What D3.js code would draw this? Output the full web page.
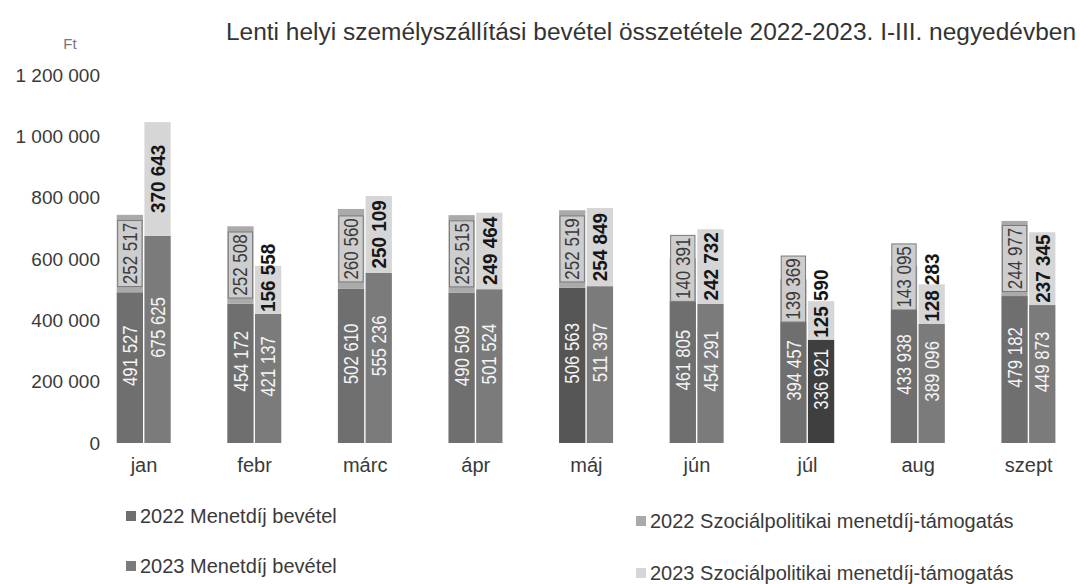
<!DOCTYPE html>
<html>
<head>
<meta charset="utf-8">
<script src="https://cdn.jsdelivr.net/npm/d3@7"></script>
<style>
  body { margin: 0; background: #fff; }
  svg { display: block; font-family: "Liberation Sans", Arial, sans-serif; }
</style>
</head>
<body>
<svg id="chart" width="1080" height="584"></svg>
<script>
const months = ['jan', 'febr', 'márc', 'ápr', 'máj', 'jún', 'júl', 'aug', 'szept'];
const fare2022 = [491527, 454172, 502610, 490509, 506563, 461805, 394457, 433938, 479182];
const fare2023 = [675625, 421137, 555236, 501524, 511397, 454291, 336921, 389096, 449873];
const support2022 = [252517, 252508, 260560, 252515, 252519, 140391, 139369, 143095, 244977];
const support2023 = [370643, 156558, 250109, 249464, 254849, 242732, 125590, 128283, 237345];
const yTicks = [0, 200000, 400000, 600000, 800000, 1000000, 1200000];
const legendNames = ['2022 Menetdíj bevétel', '2023 Menetdíj bevétel',
    '2022 Szociálpolitikai menetdíj-támogatás', '2023 Szociálpolitikai menetdíj-támogatás'];

const hu = d3.formatLocale({ decimal: ',', thousands: ' ', grouping: [3], currency: ['', ' Ft'] });
const fmt = hu.format(',d');

const svg = d3.select('#chart');

const x = d3.scaleBand().domain(months).range([88.7, 1084]);
const xSub = d3.scaleBand().domain(['2022', '2023']).range([28, 82]).paddingInner(0.05);
const y = d3.scaleLinear().domain([0, 1200000]).range([443, 75]);

// bar colours (scan is greyscale)
const fareColor = { '2022': '#6f6f6f', '2023': '#7b7b7b' };
const supColor = { '2022': '#aaaaaa', '2023': '#d6d6d6' };
const darker = { 'máj-2022': '#555555', 'júl-2023': '#3f3f3f' };

const rows = [];
months.forEach((m, i) => {
    rows.push({ m, yr: '2022', fare: fare2022[i], sup: support2022[i] });
    rows.push({ m, yr: '2023', fare: fare2023[i], sup: support2023[i] });
});

// title
svg.append('text')
    .attr('x', 226).attr('y', 40)
    .attr('font-size', 23)
    .attr('fill', '#333')
    .attr('textLength', 850).attr('lengthAdjust', 'spacingAndGlyphs')
    .text('Lenti helyi személyszállítási bevétel összetétele 2022-2023. I-III. negyedévben');

svg.append('text')
    .attr('x', 70).attr('y', 49)
    .attr('text-anchor', 'middle')
    .attr('font-size', 15)
    .attr('fill', '#777')
    .text('Ft');

// y axis (labels only)
const gy = svg.append('g')
    .attr('transform', 'translate(100,0)')
    .call(d3.axisLeft(y).tickValues(yTicks).tickSize(0).tickPadding(0).tickFormat(fmt));
gy.select('.domain').remove();
gy.selectAll('text')
    .attr('font-size', 19)
    .attr('fill', '#3a3a3a')
    .attr('font-family', '"Liberation Sans", Arial, sans-serif');

// x axis (labels only)
const gx = svg.append('g')
    .attr('transform', 'translate(0,458)')
    .call(d3.axisBottom(x).tickSize(0).tickPadding(0));
gx.select('.domain').remove();
gx.selectAll('text')
    .attr('font-size', 20)
    .attr('fill', '#3a3a3a')
    .attr('font-family', '"Liberation Sans", Arial, sans-serif');

const bars = svg.append('g');
const bx = d => x(d.m) + xSub(d.yr);
const bw = xSub.bandwidth();

bars.selectAll('rect.fare')
    .data(rows).enter().append('rect')
    .attr('class', 'fare')
    .attr('x', bx)
    .attr('width', bw)
    .attr('y', d => y(d.fare))
    .attr('height', d => y(0) - y(d.fare))
    .attr('fill', d => darker[d.m + '-' + d.yr] || fareColor[d.yr]);

bars.selectAll('rect.sup')
    .data(rows).enter().append('rect')
    .attr('class', 'sup')
    .attr('x', bx)
    .attr('width', bw)
    .attr('y', d => y(d.fare + d.sup))
    .attr('height', d => y(d.fare) - y(d.fare + d.sup))
    .attr('fill', d => supColor[d.yr]);

// labels in the fare segments
bars.selectAll('text.fare')
    .data(rows).enter().append('text')
    .attr('class', 'fare')
    .attr('text-anchor', 'middle')
    .attr('dominant-baseline', 'central')
    .attr('font-size', 21)
    .attr('fill', '#f4f4f4')
    .attr('transform', d => {
        const cy = (y(0) + y(d.fare)) / 2 - 12;
        return `translate(${bx(d) + bw / 2},${cy}) rotate(-90) scale(0.8,1)`;
    })
    .text(d => fmt(d.fare));

// labels in the support segments
function supCy(d, len) {
    const top = y(d.fare + d.sup), bot = y(d.fare);
    return Math.min((top + bot) / 2, bot - len / 2 - 2);
}

const sup22 = rows.filter(d => d.yr === '2022');
bars.selectAll('rect.supbox')
    .data(sup22).enter().append('rect')
    .attr('class', 'supbox')
    .attr('x', d => bx(d) + 1)
    .attr('width', bw - 2)
    .attr('y', d => supCy(d, 62) - 33)
    .attr('height', 66)
    .attr('fill', '#cdcdcd')
    .attr('stroke', '#7a7a7a')
    .attr('stroke-width', 1);

bars.selectAll('text.sup')
    .data(rows).enter().append('text')
    .attr('class', 'sup')
    .attr('text-anchor', 'middle')
    .attr('dominant-baseline', 'central')
    .attr('font-size', d => d.yr === '2022' ? 20 : 21)
    .attr('font-weight', d => d.yr === '2022' ? 'normal' : 'bold')
    .attr('fill', d => d.yr === '2022' ? '#3a3a3a' : '#161616')
    .attr('transform', d => {
        const len = d.yr === '2022' ? 62 : 68;
        const s = d.yr === '2022' ? 0.85 : 0.9;
        return `translate(${bx(d) + bw / 2},${supCy(d, len)}) rotate(-90) scale(${s},1)`;
    })
    .text(d => fmt(d.sup));

// legend
const legendPos = [[126, 516], [126, 566], [636, 521], [636, 573]];
const legendColor = [fareColor['2022'], fareColor['2023'], supColor['2022'], supColor['2023']];
const lg = svg.append('g').selectAll('g')
    .data(legendNames).enter().append('g')
    .attr('transform', (d, i) => `translate(${legendPos[i][0]},${legendPos[i][1]})`);
lg.append('rect')
    .attr('x', 0).attr('y', -5)
    .attr('width', 10).attr('height', 10)
    .attr('fill', (d, i) => legendColor[i]);
lg.append('text')
    .attr('x', 14).attr('y', 0)
    .attr('dominant-baseline', 'central')
    .attr('font-size', 20)
    .attr('fill', '#3a3a3a')
    .text(d => d);
</script>
</body>
</html>
